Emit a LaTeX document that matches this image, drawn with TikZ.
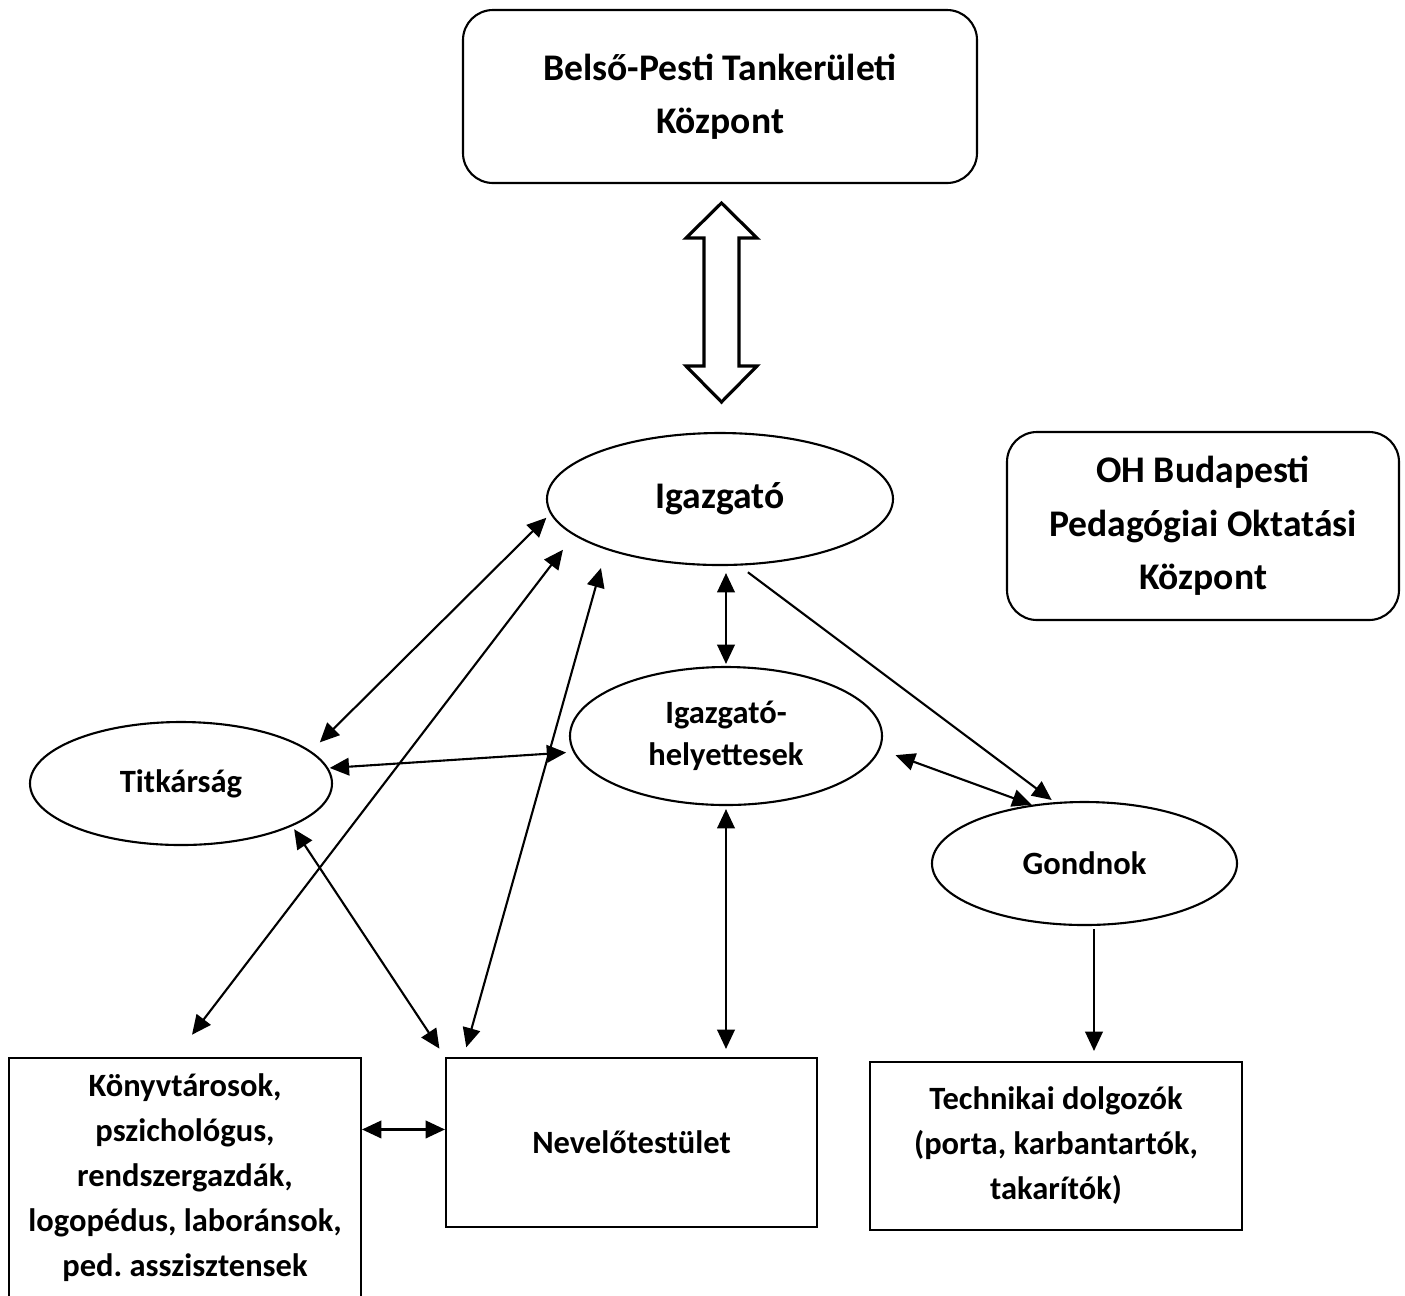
\documentclass[tikz,border=0pt]{standalone}
\usepackage{fontspec}
\setmainfont{Carlito}
\usetikzlibrary{arrows.meta,shapes.geometric}

\begin{document}
\begin{tikzpicture}[
    >={Triangle[length=5.5pt,width=5pt]},
    every node/.style={font=\bfseries\fontsize{9.25}{12.8}\selectfont, align=center},
    ovalnode/.style={draw, ellipse, line width=0.6pt, inner sep=0pt},
    roundbox/.style={draw, rounded corners=0.3cm, line width=0.6pt, font=\bfseries\fontsize{10.7}{15.2}\selectfont},
    plainbox/.style={draw, line width=0.6pt},
    link/.style={line width=0.6pt}
]
\useasboundingbox (0,0) rectangle (14.05,-12.95);

% boxes on top
\node[roundbox, minimum width=5.14cm, minimum height=1.73cm] (tank) at (7.20,-0.965) {Belső-Pesti Tankerületi\\Központ};
\node[roundbox, minimum width=3.92cm, minimum height=1.88cm] (oh) at (12.03,-5.26) {OH Budapesti\\Pedagógiai Oktatási\\Központ};

% ovals
\node[ovalnode, minimum width=3.46cm, minimum height=1.32cm, font=\bfseries\fontsize{10.7}{15}\selectfont] (igaz) at (7.20,-4.99) {Igazgató};
\node[ovalnode, minimum width=3.02cm, minimum height=1.23cm] (titk) at (1.81,-7.835) {Titkárság};
\node[ovalnode, minimum width=3.12cm, minimum height=1.38cm, font=\bfseries\fontsize{9.25}{12}\selectfont] (hely) at (7.26,-7.36) {Igazgató-\\helyettesek};
\node[ovalnode, minimum width=3.05cm, minimum height=1.23cm] (gond) at (10.845,-8.635) {Gondnok};

% boxes below
\node[plainbox, minimum width=3.52cm, minimum height=2.4cm] (konyv) at (1.85,-11.78) {Könyvtárosok,\\pszichológus,\\rendszergazdák,\\logopédus, laboránsok,\\ped.\ asszisztensek};
\node[plainbox, minimum width=3.71cm, minimum height=1.69cm] (nevel) at (6.315,-11.425) {Nevelőtestület};
\node[plainbox, minimum width=3.72cm, minimum height=1.68cm] (tech) at (10.56,-11.46) {Technikai dolgozók\\(porta, karbantartók,\\takarítók)};

% big double arrow
\coordinate (dbl) at (7.215,-3.025);
\draw[line width=0.9pt] (dbl) ++(0,0.995) -- ++(0.355,-0.35) -- ++(-0.18,0) -- ++(0,-1.28)
    -- ++(0.18,0) -- ++(-0.355,-0.36) -- ++(-0.355,0.36) -- ++(0.18,0) -- ++(0,1.28)
    -- ++(-0.18,0) -- cycle;

% connectors
\draw[link,<->,shorten <=0.055cm,shorten >=0.124cm] (igaz.185.6) -- (titk.14.7);
\draw[link,<->,shorten <=0.18cm,shorten >=0.28cm] (igaz.194.2) -- ([xshift=-0.1cm]konyv.north);
\draw[link,<->,shorten <=0.19cm,shorten >=0.10cm] (igaz.204) -- (nevel.153.6);
\draw[link,<->,shorten <=0.07cm,shorten >=0.02cm] (hely.north |- igaz.south) -- (hely.north);
\draw[link,->,shorten <=0.11cm,shorten >=0.036cm] (igaz.286.8) -- (gond.116.4);
\draw[link,<->,shorten <=0.014cm,shorten >=0.07cm] (titk.6.4) -- (hely.186.5);
\draw[link,<->,shorten <=0.036cm,shorten >=0.10cm] (titk.-21.8) -- (nevel.north west);
\draw[link,<->,shorten <=0.03cm,shorten >=0.08cm] (hely.south) -- (hely.south |- nevel.north);
\draw[link,<->,shorten <=0.165cm] (hely.-5.4) -- (gond.132.9);
\coordinate (gt) at ([xshift=0.095cm]gond.south);
\draw[link,->,shorten <=0.03cm,shorten >=0.10cm] (gt) -- (gt |- tech.north);
\draw[link,<->] (nevel.176.8) -- (konyv.east |- nevel.176.8);
\end{tikzpicture}
\end{document}
